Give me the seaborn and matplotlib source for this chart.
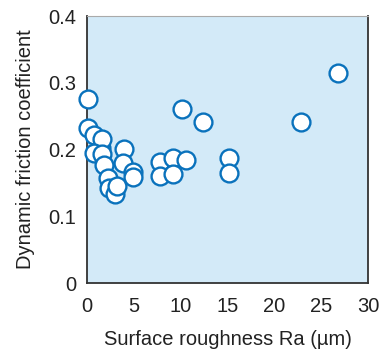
import matplotlib
matplotlib.use('Agg')
import matplotlib.pyplot as plt
import seaborn as sns
import pandas as pd

# Surface roughness Ra (um) vs dynamic friction coefficient
ra = [1.5, 0.1, 0.1, 0.7, 1.6, 0.7, 1.55, 1.85, 2.25, 2.4, 3.0, 3.2,
      3.95, 3.85, 4.9, 4.9, 7.8, 9.15, 10.55, 7.75, 9.15,
      10.1, 12.4, 15.2, 15.2, 22.85, 26.8]
mu = [0.203, 0.276, 0.232, 0.222, 0.216, 0.195, 0.194, 0.177, 0.157, 0.143, 0.133, 0.146,
      0.201, 0.18, 0.166, 0.159, 0.182, 0.187, 0.184, 0.161, 0.164,
      0.261, 0.241, 0.187, 0.165, 0.241, 0.314]

df = pd.DataFrame({'ra': ra, 'mu': mu})

sns.set_style('white')
plt.rcParams['font.family'] = ['Liberation Sans', 'DejaVu Sans']

fig = plt.figure(figsize=(3.85, 3.57), dpi=100)
ax = fig.add_axes([0.226, 0.207, 0.730, 0.748])
ax.set_facecolor('#d3eaf8')

sns.scatterplot(data=df, x='ra', y='mu', ax=ax, s=165, color='white',
                edgecolor='#0a72bc', linewidth=1.7, zorder=3, clip_on=False)

ax.set_xlim(0, 30)
ax.set_ylim(0, 0.4)
ax.set_xticks([0, 5, 10, 15, 20, 25, 30])
ax.set_yticks([0, 0.1, 0.2, 0.3, 0.4])
ax.set_yticklabels(['0', '0.1', '0.2', '0.3', '0.4'])
ax.tick_params(axis='x', direction='in', length=5, width=1, color='#333333',
               labelsize=14.5, pad=10, labelcolor='#222222')
ax.tick_params(axis='y', direction='out', length=5, width=1, color='#333333',
               labelsize=14.5, pad=3, labelcolor='#222222')

for side in ['left', 'bottom', 'right']:
    ax.spines[side].set_color('#333333')
    ax.spines[side].set_linewidth(1.3)
ax.spines['top'].set_color('#aaaaaa')
ax.spines['top'].set_linewidth(0.8)

ax.set_xlabel('Surface roughness Ra (\u00b5m)', fontsize=14.5, color='#222222', labelpad=10)
ax.set_ylabel('Dynamic friction coefficient', fontsize=14.5, color='#222222', labelpad=9)

fig.savefig('out.png', dpi=100)
